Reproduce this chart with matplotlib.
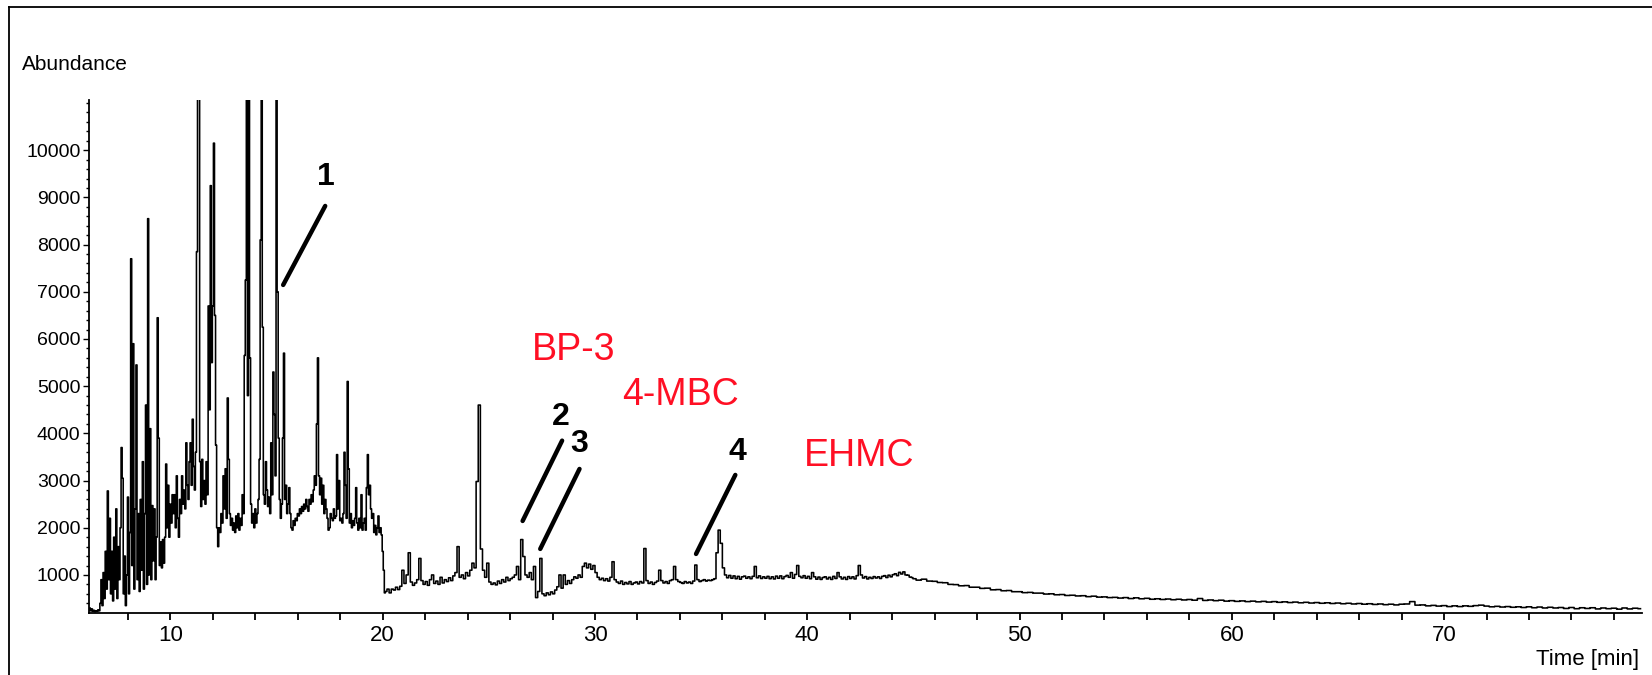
import numpy as np
import matplotlib
matplotlib.use("Agg")
import matplotlib.pyplot as plt
from matplotlib.lines import Line2D

plt.rcParams['font.family'] = ['Liberation Sans', 'DejaVu Sans']

# ---------------- data ----------------
# segment A: 6.15 .. 20.10 min, sampled every 0.05 min
segA_start, segA_step = 6.15, 0.05
segA_abund = [
    260, 300, 240, 280, 230, 250, 220, 240, 230, 260, 240, 400, 900, 350, 1050, 500, 1500, 700, 2780, 900,
    2200, 600, 1500, 450, 1800, 700, 2400, 500, 1600, 900, 2000, 3700, 3050, 600, 1400, 350, 1000, 2650, 600, 1900,
    7700, 1200, 5900, 700, 2400, 5450, 900, 2300, 650, 2600, 1100, 3400, 700, 2300, 4600, 800, 8550, 1000, 4100, 900,
    2470, 1300, 2400, 900, 1800, 6450, 3900, 1200, 1700, 1150, 1750, 1250, 1800, 3350, 2000, 2900, 1800, 2500, 2100, 2700,
    2300, 2700, 2000, 3100, 2200, 1800, 2600, 2300, 3100, 2500, 2800, 2400, 3800, 2900, 2600, 3400, 3800, 2900, 4300, 3300,
    2800, 3600, 7850, 11500, 11500, 3400, 2450, 3450, 2600, 3000, 2500, 3400, 2700, 6700, 4500, 9250, 5500, 6700, 10150, 6500,
    3750, 2000, 1600, 2000, 1900, 2300, 2100, 3100, 2400, 3250, 2200, 4750, 3450, 2300, 2050, 2200, 1950, 2100, 1900, 2250,
    2000, 2300, 1950, 2200, 2050, 2700, 2300, 5650, 7250, 11500, 4800, 11500, 5600, 2500, 2100, 2300, 2000, 2400, 2100, 2300,
    2600, 3450, 8100, 11500, 6250, 2700, 2500, 3400, 2800, 2450, 2650, 2300, 3800, 2700, 5300, 4400, 3100, 11500, 7000, 3900,
    2600, 2200, 2500, 3900, 5700, 2600, 2900, 2300, 2500, 2850, 2300, 2000, 1950, 2150, 2050, 2200, 2150, 2300, 2250, 2400,
    2300, 2450, 2350, 2500, 2400, 2600, 2450, 2350, 2600, 2500, 2700, 2550, 2800, 3100, 2900, 4200, 5600, 3100, 2700, 3050,
    2500, 2900, 2300, 2600, 2400, 2200, 1950, 2000, 2300, 2200, 2150, 2400, 2200, 2250, 3550, 2400, 3000, 2150, 2200, 2100,
    2300, 3600, 2900, 2200, 5100, 3250, 2100, 2300, 2000, 2150, 2050, 2200, 2850, 2100, 1950, 2200, 2000, 2700, 1950, 2100,
    2200, 1950, 2850, 3550, 2700, 2900, 2400, 2200, 2300, 1900, 2050, 1850, 2000, 2250, 1900, 2000, 1850, 1500, 1100, 620,
]

# segment B: 20.15 .. 44.95 min, sampled every 0.1 min
segB_start, segB_step = 20.15, 0.1
segB_abund = [
    650, 700, 620, 700, 680, 740, 690, 760, 1100, 820, 1000, 1470, 850, 780, 830, 900, 1350, 880, 800, 860,
    780, 900, 1000, 820, 870, 800, 950, 830, 900, 860, 940, 880, 980, 1050, 1600, 950, 1000, 920, 1050, 980,
    1100, 1250, 1150, 2980, 4600, 1550, 1100, 950, 1250, 850, 800, 830, 790, 870, 820, 900, 850, 950, 880, 920,
    950, 1000, 1180, 900, 1750, 1390, 1000, 950, 1050, 900, 1180, 520, 650, 1350, 600, 560, 620, 580, 640, 600,
    680, 750, 1000, 720, 1000, 800, 880, 820, 900, 960, 930, 1000, 950, 1180, 1250, 1150, 1230, 1120, 1200, 1050,
    950, 900, 930, 880, 920, 870, 950, 1280, 900, 850, 820, 870, 800, 840, 810, 860, 800, 830, 850, 810,
    860, 830, 1560, 880, 820, 850, 800, 840, 870, 1100, 880, 830, 860, 820, 880, 900, 1180, 900, 860, 840,
    820, 860, 830, 850, 820, 870, 1210, 900, 860, 880, 900, 870, 890, 880, 900, 920, 1470, 1950, 1670, 1150,
    1000, 940, 990, 930, 980, 920, 970, 910, 960, 975, 930, 960, 920, 970, 1180, 940, 980, 925, 960, 930,
    970, 920, 960, 915, 975, 930, 980, 920, 965, 990, 950, 1050, 930, 1010, 1200, 970, 940, 985, 930, 970,
    920, 1050, 960, 910, 955, 905, 945, 960, 915, 950, 905, 970, 925, 1050, 960, 915, 950, 905, 965, 925,
    960, 915, 985, 1200, 1000, 935, 965, 915, 950, 925, 965, 935, 960, 925, 970, 985, 945, 995, 960, 1005,
    1025, 985, 1055, 1020, 1065, 1000, 995, 955, 945,
]

# segment C: 45.00 .. 79.25 min, sampled every 0.25 min
segC_start, segC_step = 45.0, 0.25
segC_abund = [
    920, 890, 910, 870, 865, 840, 835, 800, 795, 770, 775, 740, 740, 715, 720, 685,
    690, 665, 670, 645, 645, 625, 630, 615, 615, 595, 600, 580, 585, 565, 570, 555,
    560, 540, 550, 530, 535, 520, 525, 510, 520, 500, 515, 495, 505, 485, 495, 480,
    490, 475, 485, 470, 480, 465, 500, 460, 470, 455, 465, 445, 455, 440, 450, 435,
    445, 430, 440, 425, 435, 420, 430, 415, 425, 410, 420, 405, 415, 400, 410, 395,
    405, 390, 400, 385, 395, 380, 390, 375, 385, 370, 380, 365, 380, 385, 435, 360,
    365, 345, 355, 340, 350, 330, 345, 330, 345, 335, 350, 360, 340, 325, 335, 320,
    330, 315, 325, 310, 325, 305, 320, 300, 315, 300, 310, 290, 310, 285, 305, 290,
    305, 280, 300, 285, 295, 275, 300, 280, 295, 285,
]

# annotations
peak_labels = ["1", "2", "3", "4"]
label_time = [17.34, 28.41, 29.26, 36.70]
label_abund = [9264, 4179, 3606, 3437]
pointer_time = [(17.29, 15.31), (28.45, 26.59), (29.27, 27.42), (36.61, 34.76)]
pointer_abund = [(8819, 7145), (3846, 2144), (3246, 1551), (3119, 1445)]

compound_names = ["BP-3", "4-MBC", "EHMC"]
compound_time = [27.03, 31.27, 39.86]
compound_abund = [5556, 4600, 3310]

y_major = [1000, 2000, 3000, 4000, 5000, 6000, 7000, 8000, 9000, 10000]
x_major = [10, 20, 30, 40, 50, 60, 70]

# ---------------- figure ----------------
segments = [(segA_start, segA_step, segA_abund),
            (segB_start, segB_step, segB_abund),
            (segC_start, segC_step, segC_abund)]
t_all, a_all = [], []
for s, st, vals in segments:
    t_all.append(s + st * np.arange(len(vals)))
    a_all.append(np.asarray(vals, dtype=float))
t_all = np.concatenate(t_all)
a_all = np.concatenate(a_all)

fig = plt.figure(figsize=(16.52, 6.75), dpi=100)
ax = fig.add_axes([0.0537, 0.0923, 0.9401, 0.7596])

ax.plot(t_all, a_all, drawstyle='steps-mid', color='black', lw=1.15)

ax.set_xlim(6.15, 79.31)
ax.set_ylim(200, 11065)

for side in ['top', 'right']:
    ax.spines[side].set_visible(False)
for side in ['left', 'bottom']:
    ax.spines[side].set_linewidth(1.3)

ax.set_yticks(y_major)
ax.set_yticks(np.arange(400, 11065, 200), minor=True)
ax.set_xticks(x_major)
ax.set_xticks(np.arange(8, 80, 2), minor=True)
ax.tick_params(axis='y', which='major', length=4, width=1.0, labelsize=14, pad=2, colors='black')
ax.tick_params(axis='y', which='minor', length=2.2, width=1.0)
ax.tick_params(axis='x', which='major', length=5, width=1.3, labelsize=16, pad=4)
ax.tick_params(axis='x', which='minor', length=5, width=1.3)

# peak numbers and pointer lines
for lab, tx, ay in zip(peak_labels, label_time, label_abund):
    ax.text(tx, ay, lab, ha='center', va='baseline', fontsize=23, fontweight='bold', color='black')
for (t0, t1), (a0, a1) in zip(pointer_time, pointer_abund):
    ax.plot([t0, t1], [a0, a1], color='black', lw=3.2, solid_capstyle='round')

for name, tx, ay in zip(compound_names, compound_time, compound_abund):
    ax.text(tx, ay, name, ha='left', va='baseline', fontsize=27, color='#ff0f24')

fig.text(0.0133, 0.8963, "Abundance", ha='left', va='baseline', fontsize=15)
fig.text(0.9921, 0.0148, "Time [min]", ha='right', va='baseline', fontsize=16)

# outer frame lines (top and left)
fig.add_artist(Line2D([9 / 1652, 1.0], [1 - 7 / 675, 1 - 7 / 675], transform=fig.transFigure, color='black', lw=1.3))
fig.add_artist(Line2D([9 / 1652, 9 / 1652], [0.0, 1 - 7 / 675], transform=fig.transFigure, color='black', lw=1.3))

fig.savefig("out.png", dpi=100)
